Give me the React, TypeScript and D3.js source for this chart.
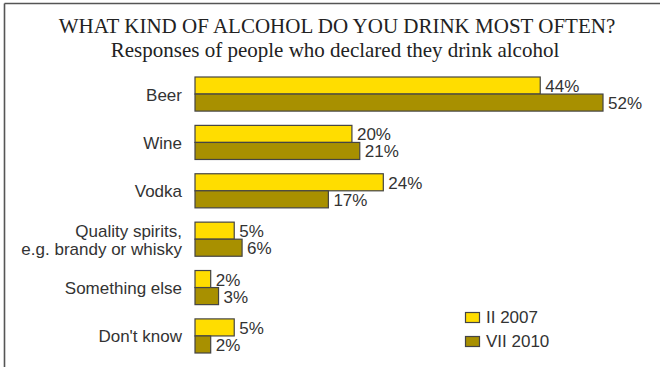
import React from "react";
import * as d3 from "d3";

const categories = ["Beer", "Wine", "Vodka", "Quality spirits,\ne.g. brandy or whisky", "Something else", "Don't know"];
const seriesNames = ["II 2007", "VII 2010"];
const values2007 = [44, 20, 24, 5, 2, 5];
const values2010 = [52, 21, 17, 6, 3, 2];
const seriesColors = ["#FFDD00", "#A89000"];
const titleText = "WHAT KIND OF ALCOHOL DO YOU DRINK MOST OFTEN?";
const subtitleText = "Responses of people who declared they drink alcohol";

const W = 660;
const H = 367;

export default function App() {
  const seriesValues = [values2007, values2010];
  const x = d3.scaleLinear().domain([0, 52]).range([195, 603]);
  const y = d3.scaleBand<string>().domain(categories).range([77, 353]).paddingInner(0.295).paddingOuter(0);
  const ySub = d3.scaleBand<number>().domain([0, 1]).range([0, y.bandwidth()]).padding(0);
  const font = "'Liberation Sans', Arial, sans-serif";
  const textColor = "#333";

  return (
    <svg width={W} height={H} style={{ position: "absolute", left: 0, top: 0, display: "block", background: "#fff" }}>
      <line x1={4.5} y1={3.5} x2={W} y2={3.5} stroke="#555" strokeWidth={1.6} />
      <line x1={4.5} y1={3.5} x2={4.5} y2={H} stroke="#555" strokeWidth={1.6} />
      <text x={337} y={33} textAnchor="middle" fontFamily="'Liberation Serif', 'Times New Roman', serif" fontSize={21} fill="#222">
        {titleText}
      </text>
      <text x={335} y={57} textAnchor="middle" fontFamily="'Liberation Serif', 'Times New Roman', serif" fontSize={21} fill="#222">
        {subtitleText}
      </text>
      {categories.map((c, i) => {
        const y0 = y(c)!;
        const cy = y0 + y.bandwidth() / 2;
        const lines = c.split("\n");
        return (
          <g key={c}>
            <text x={182} textAnchor="end" fontFamily={font} fontSize={17} fill={textColor}>
              {lines.map((ln, k) => (
                <tspan key={k} x={182} y={cy + 6.5 + (k - (lines.length - 1) / 2) * 18}>
                  {ln}
                </tspan>
              ))}
            </text>
            {seriesValues.map((vals, s) => {
              const by = y0 + ySub(s)!;
              const bw = x(vals[i]) - x(0);
              return (
                <g key={s}>
                  <rect x={x(0)} y={by} width={bw} height={ySub.bandwidth()} fill={seriesColors[s]} stroke="#444" strokeWidth={1.2} />
                  <text x={x(vals[i]) + 5} y={by + ySub.bandwidth() / 2 + 6.5} fontFamily={font} fontSize={17} fill={textColor}>
                    {vals[i]}%
                  </text>
                </g>
              );
            })}
          </g>
        );
      })}
      {seriesNames.map((n, s) => (
        <g key={n}>
          <rect x={465.5} y={312.5 + s * 24} width={14} height={10} fill={seriesColors[s]} stroke="#444" strokeWidth={1.2} />
          <text x={486} y={323 + s * 24} fontFamily={font} fontSize={17} fill={textColor}>
            {n}
          </text>
        </g>
      ))}
    </svg>
  );
}
